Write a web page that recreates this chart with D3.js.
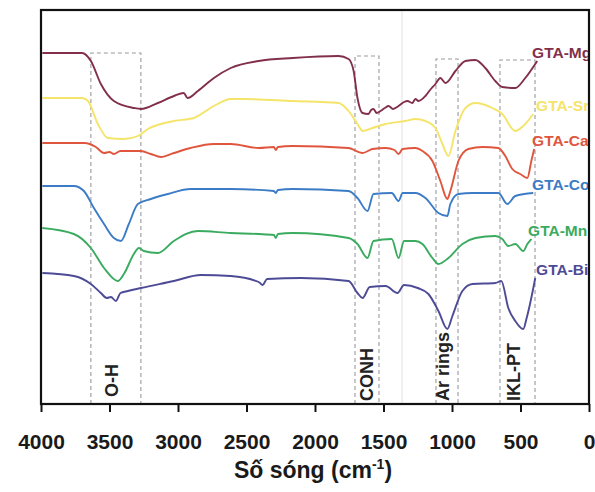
<!DOCTYPE html>
<html>
<head>
<meta charset="utf-8">
<script src="https://cdn.jsdelivr.net/npm/d3@7"></script>
<style>
  html, body { margin: 0; padding: 0; background: #fff; }
  svg { display: block; }
  text { font-family: "Liberation Sans", Arial, sans-serif; }
</style>
</head>
<body>
<svg id="chart" width="595" height="492"></svg>
<script>
// ---- DATA (wavenumber cm-1, offset transmittance a.u.) ----
const seriesNames = ["GTA-Mg", "GTA-Sr", "GTA-Ca", "GTA-Co", "GTA-Mn", "GTA-Bi"];

const mgData = [[3990,35.1],[3700,35.1],[3636,34.3],[3563,32.0],[3468,30.3],[3322,29.6],[3271,29.5],[3147,30.1],[3030,30.8],[2958,31.1],[2930,30.6],[2855,31.3],[2738,32.6],[2615,33.6],[2411,34.3],[2163,34.6],[1828,34.8],[1755,34.5],[1718,33.3],[1690,30.6],[1653,29.1],[1610,29.0],[1590,29.4],[1573,29.5],[1550,29.1],[1522,29.3],[1490,29.6],[1463,29.8],[1430,29.5],[1390,29.8],[1350,30.2],[1325,30.3],[1290,30.1],[1267,30.5],[1245,30.3],[1194,30.8],[1160,31.4],[1121,32.0],[1085,32.6],[1048,32.1],[975,33.3],[902,34.3],[829,34.4],[757,33.6],[684,32.3],[633,31.7],[538,31.6],[465,32.6],[378,34.3]];

const srData = [[3990,30.6],[3700,30.6],[3657,30.3],[3585,28.0],[3512,26.6],[3395,26.5],[3293,26.8],[3220,27.5],[3030,28.3],[2885,28.6],[2738,29.8],[2615,30.5],[2528,30.5],[2163,30.3],[1828,30.1],[1755,29.3],[1690,28.0],[1653,27.3],[1580,27.6],[1485,28.0],[1340,28.3],[1267,28.5],[1194,28.3],[1121,27.6],[1070,26.0],[1026,24.8],[975,27.3],[902,29.6],[829,30.1],[706,29.6],[633,29.0],[538,27.3],[480,27.8],[407,29.0]];

const caData = [[3990,26.1],[3680,26.1],[3600,25.7],[3540,25.1],[3500,25.2],[3468,25.0],[3420,25.3],[3366,25.3],[3271,25.3],[3198,25.0],[3125,24.7],[3030,25.1],[2907,25.6],[2738,26.0],[2615,26.0],[2411,25.6],[2300,25.7],[2287,25.4],[2270,25.7],[2163,25.8],[1755,25.6],[1653,25.1],[1580,25.5],[1485,25.6],[1420,25.4],[1390,25.0],[1360,25.5],[1267,25.6],[1216,25.3],[1143,24.3],[1085,22.3],[1034,20.5],[1012,21.3],[953,24.3],[880,25.5],[778,25.7],[662,25.6],[611,24.8],[560,23.5],[502,23.0],[450,22.6],[421,24.3],[400,25.5]];

const coData = [[3990,21.8],[3760,21.8],[3687,21.3],[3614,19.6],[3540,18.0],[3468,16.6],[3417,16.3],[3359,18.0],[3293,20.0],[3198,20.5],[3074,21.0],[2907,21.5],[2615,21.5],[2300,21.3],[2287,21.1],[2270,21.4],[2163,21.5],[1755,21.3],[1690,20.6],[1617,19.3],[1573,21.0],[1440,21.1],[1390,20.3],[1360,21.1],[1267,21.1],[1194,20.6],[1099,19.1],[1034,18.8],[1012,20.0],[953,21.0],[851,21.1],[662,21.1],[596,20.0],[538,20.8],[407,21.1]];

const mnData = [[3990,17.6],[3760,17.0],[3636,15.6],[3540,13.6],[3439,12.3],[3395,13.0],[3322,15.0],[3286,15.6],[3250,15.3],[3147,15.1],[3030,16.3],[2855,17.3],[2615,17.1],[2411,17.0],[2300,16.9],[2287,16.6],[2270,17.0],[2163,17.1],[1755,16.6],[1690,16.0],[1617,14.6],[1573,16.3],[1440,16.5],[1390,14.6],[1350,16.3],[1267,16.3],[1216,16.0],[1143,14.6],[1099,14.0],[1026,14.6],[924,16.0],[829,16.6],[684,16.8],[633,16.5],[589,15.8],[538,16.0],[480,15.3],[450,16.0],[421,16.5]];

const biData = [[3990,13.1],[3760,12.8],[3636,12.0],[3563,11.1],[3520,10.6],[3490,10.7],[3453,10.3],[3420,11.1],[3366,11.3],[3271,11.6],[3030,12.3],[2834,12.9],[2615,12.8],[2411,12.2],[2382,11.9],[2350,12.5],[2100,12.6],[1755,12.3],[1690,11.1],[1653,10.6],[1600,11.7],[1485,11.8],[1398,11.1],[1350,11.9],[1250,11.6],[1172,11.0],[1099,9.3],[1034,7.5],[997,8.8],[924,11.3],[851,12.0],[684,12.1],[640,12.3],[589,9.6],[538,8.3],[480,7.5],[455,8.6],[392,12.6]];

const seriesValues = [mgData, srData, caData, coData, mnData, biData];

// band regions: [label, high wn, low wn, top value]
const bandLabels = ["O-H", "CONH", "Ar rings", "IKL-PT"];
const bandHigh = [3636, 1708, 1117, 650];
const bandLow = [3271, 1533, 956, 394];
const bandTop = [35.1, 34.8, 34.5, 34.4];

const xTicks = [4000, 3500, 3000, 2500, 2000, 1500, 1000, 500, 0];
const xTitle = "Số sóng (cm";
const foldLineWn = 1365;

// ---- STYLE ----
const colors = ["#82304a", "#f5e46a", "#e0553d", "#3c7cc6", "#3aab5f", "#4d4b96"];

const svg = d3.select("#chart");
const L = 41, R = 589, T = 10, B = 404;

const x = d3.scaleLinear().domain([4000, 0]).range([L, R]);
const y = d3.scaleLinear().domain([0, 39.4]).range([B, T]);

svg.append("defs").append("clipPath").attr("id", "frameClip")
  .append("rect").attr("x", 0).attr("y", 0).attr("width", R).attr("height", 492);

// faint fold line
svg.append("line")
  .attr("x1", x(foldLineWn)).attr("x2", x(foldLineWn))
  .attr("y1", T).attr("y2", B)
  .attr("stroke", "#e6e6e6").attr("stroke-width", 1.2);

// band boxes
const labelShift = [-4, 0, -4, -4];
bandLabels.forEach((lab, i) => {
  const x0 = x(bandHigh[i]), x1 = x(bandLow[i]), yt = y(bandTop[i]);
  svg.append("path")
    .attr("d", `M${x0},${B} L${x0},${yt} L${x1},${yt} L${x1},${B}`)
    .attr("fill", "none").attr("stroke", "#9a9aa2")
    .attr("stroke-width", 1.1).attr("stroke-dasharray", "4,3");
  const cx = (x0 + x1) / 2 + labelShift[i];
  const by = i === 0 ? 397 : 401;
  svg.append("text")
    .attr("transform", `translate(${cx + 6.5},${by}) rotate(-90)`)
    .attr("font-size", 18).attr("font-weight", "bold")
    .attr("fill", "#222")
    .text(lab);
});

// series lines
seriesValues.forEach((data, i) => {
  svg.append("path")
    .datum(data.slice().sort((a, b) => a[0] - b[0]))
    .attr("d", d3.line().x(d => x(d[0])).y(d => y(d[1])).curve(d3.curveMonotoneX))
    .attr("fill", "none").attr("stroke", colors[i])
    .attr("stroke-width", 1.9).attr("stroke-linejoin", "round");
});

// series labels
const labelDx = [0, 4, 0, 0, -4, 4];
const lbl = svg.append("g").attr("clip-path", "url(#frameClip)");
seriesNames.forEach((name, i) => {
  const d = seriesValues[i];
  const last = d[d.length - 1];
  lbl.append("text")
    .attr("x", x(430) + labelDx[i] + 2)
    .attr("y", y(last[1]) - 3)
    .attr("font-size", 15.5).attr("font-weight", "bold")
    .attr("fill", colors[i])
    .text(name);
});

// x axis
const ax = svg.append("g").attr("transform", `translate(0,${B})`)
  .call(d3.axisBottom(x).tickValues(xTicks).tickSize(8).tickPadding(22).tickFormat(d3.format("d")));
ax.select(".domain").remove();
ax.selectAll(".tick line").attr("stroke", "#111").attr("stroke-width", 2);
ax.selectAll(".tick text")
  .attr("font-size", 21).attr("font-weight", "bold").attr("fill", "#1a1a1a")
  .attr("font-family", "'Liberation Sans', Arial, sans-serif");

// frame
svg.append("rect").attr("x", L).attr("y", T).attr("width", R - L).attr("height", B - T)
  .attr("fill", "none").attr("stroke", "#111").attr("stroke-width", 2.2);

// axis title
const t = svg.append("text").attr("x", 313).attr("y", 478).attr("text-anchor", "middle")
  .attr("font-size", 23).attr("font-weight", "bold").attr("fill", "#1a1a1a");
t.append("tspan").text(xTitle);
t.append("tspan").attr("font-size", 14).attr("dy", -9).text("-1");
t.append("tspan").attr("dy", 9).text(")");
</script>
</body>
</html>
